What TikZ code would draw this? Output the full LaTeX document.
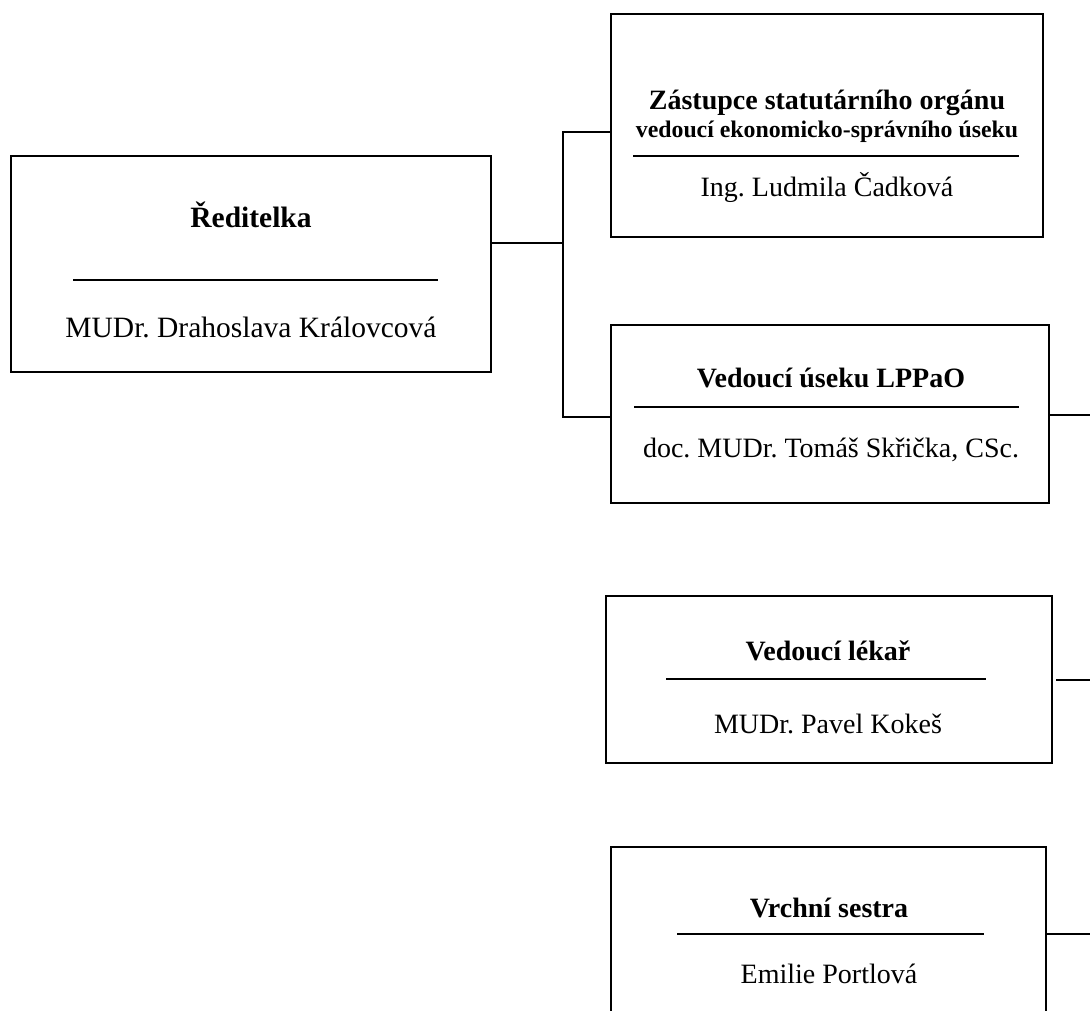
\documentclass[tikz,border=0pt]{standalone}
\usepackage{fontspec}
\setmainfont{Liberation Serif}
\frenchspacing
\begin{document}
\frenchspacing
\begin{tikzpicture}[x=1pt,y=-1pt,
  box/.style={draw, line width=2pt, rectangle, inner sep=0pt, outer sep=0pt},
  conn/.style={line width=1.5pt},
  sepline/.style={line width=1.5pt},
  ttl/.style={anchor=base, inner sep=0pt, font=\fontsize{28}{32}\selectfont\bfseries},
  sub/.style={anchor=base, inner sep=0pt, font=\fontsize{23.8}{27}\selectfont\bfseries},
  nm/.style={anchor=base, inner sep=0pt, font=\fontsize{28}{32}\selectfont},
  bigttl/.style={anchor=base, inner sep=0pt, font=\fontsize{29.5}{34}\selectfont\bfseries},
  bignm/.style={anchor=base, inner sep=0pt, font=\fontsize{29.5}{34}\selectfont}]
\useasboundingbox (0,0) rectangle (1090,1011);
\clip (0,0) rectangle (1090,1011);

% boxes
\node[box, minimum width=480pt, minimum height=216pt] (b1) at (251,264) {};
\node[box, minimum width=432pt, minimum height=223pt] (b2) at (827,125.5) {};
\node[box, minimum width=438pt, minimum height=178pt] (b3) at (830,414) {};
\node[box, minimum width=446pt, minimum height=167pt] (b4) at (829,679.5) {};
\node[box, minimum width=435pt, minimum height=200pt] (b5) at (828.5,947) {};

% texts
\node[bigttl] (t1) at (251,228) {Ředitelka};
\node[bignm] (n1) at (251,337) {MUDr. Drahoslava Královcová};
\node[ttl] (t2) at (827,110) {Zástupce statutárního orgánu};
\node[sub] (u2) at (827,138) {vedoucí ekonomicko-správního úseku};
\node[nm] (n2) at (827,197) {Ing. Ludmila Čadková};
\node[ttl] (t3) at (831,387) {Vedoucí úseku LPPaO};
\node[nm] (n3) at (831,457) {doc. MUDr. Tomáš Skřička, CSc.};
\node[ttl] (t4) at (828,660) {Vedoucí lékař};
\node[nm] (n4) at (828,733) {MUDr. Pavel Kokeš};
\node[ttl] (t5) at (829,917) {Vrchní sestra};
\node[nm] (n5) at (829,983) {Emilie Portlová};

% separators
\coordinate (s1a) at (73,280);  \coordinate (s1b) at (438,280);
\coordinate (s2a) at (633,156); \coordinate (s2b) at (1019,156);
\coordinate (s3a) at (634,407); \coordinate (s3b) at (1019,407);
\coordinate (s4a) at (666,679); \coordinate (s4b) at (986,679);
\coordinate (s5a) at (677,934); \coordinate (s5b) at (984,934);
\draw[sepline] (s1a) -- (s1b);
\draw[sepline] (s2a) -- (s2b);
\draw[sepline] (s3a) -- (s3b);
\draw[sepline] (s4a) -- (s4b);
\draw[sepline] (s5a) -- (s5b);

% connectors
\coordinate (j0) at (563,243);
\coordinate (ja) at (563,132);
\coordinate (jb) at (563,417);
\draw[conn] (b1.east |- j0) -- (j0);
\draw[conn] (b2.west |- ja) -- (ja) -- (jb) -- (b3.west |- jb);

% stubs to the right
\coordinate (e3) at (1090,415);
\coordinate (e4a) at (1056,680);
\coordinate (e4) at (1090,680);
\coordinate (e5) at (1090,934);
\draw[conn] (b3.east |- e3) -- (e3);
\draw[conn] (e4a) -- (e4);
\draw[conn] (b5.east |- e5) -- (e5);
\end{tikzpicture}
\end{document}
